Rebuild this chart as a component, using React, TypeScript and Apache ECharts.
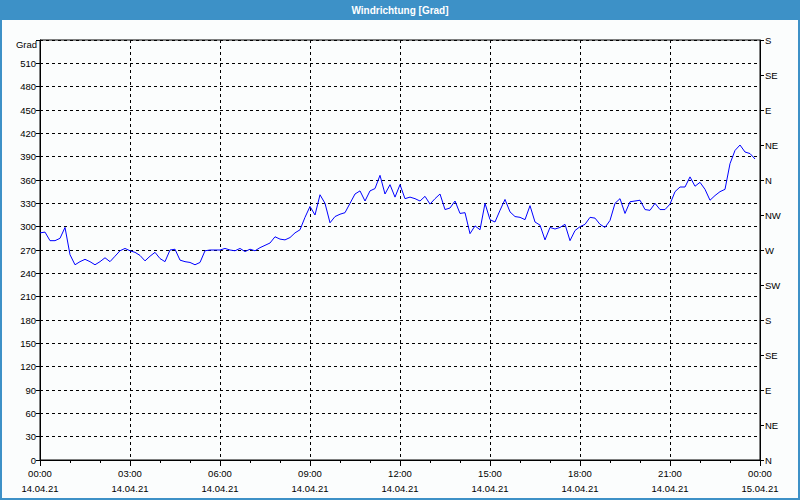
import React, { useEffect, useRef } from "react";
import * as echarts from "echarts";

const chartTitle = "Windrichtung [Grad]";
const yUnitLabel = "Grad";
const dateLabels = ["14.04.21", "15.04.21"];
const directionLabels = ["N", "NE", "E", "SE", "S", "SW", "W", "NW", "N", "NE", "E", "SE", "S"];
const sampleStepMinutes = 10;

// Wind direction [deg], 10-minute samples from 00:00 to 23:50
const windDir: number[] = [
  292, 293, 282, 282, 285, 299, 264, 251, 255, 258, 255, 251,
  255, 260, 255, 262, 269, 272, 269, 267, 263, 256, 262, 267,
  259, 255, 270, 271, 257, 255, 254, 251, 254, 269, 270, 270,
  270, 272, 270, 269, 272, 268, 271, 269, 273, 276, 279, 287,
  284, 283, 286, 292, 296, 312, 326, 315, 341, 330, 305, 313,
  316, 318, 330, 342, 346, 333, 346, 349, 366, 342, 354, 338,
  354, 336, 338, 336, 333, 339, 329, 336, 342, 322, 324, 333,
  317, 318, 291, 301, 296, 330, 309, 306, 321, 335, 319, 313,
  312, 309, 327, 306, 302, 283, 299, 297, 299, 303, 282, 295,
  300, 303, 312, 311, 303, 299, 308, 330, 336, 317, 332, 333,
  334, 322, 321, 330, 322, 322, 329, 345, 351, 351, 364, 352,
  357, 348, 334, 340, 345, 348, 381, 398, 405, 396, 394, 387,
];

const FONT = "Liberation Sans";

export default function App() {
  const ref = useRef<HTMLDivElement>(null);

  useEffect(() => {
    if (!ref.current) return;
    const chart = echarts.init(ref.current, undefined, { renderer: "svg" });
    const seriesData = windDir.map((v, i) => [i * sampleStepMinutes, v]);
    const pad = (n: number) => (n < 10 ? "0" + n : "" + n);

    chart.setOption({
      animation: false,
      backgroundColor: "#fbfdfd",
      grid: {
        left: 40,
        right: 40,
        top: 40,
        bottom: 40,
        show: true,
        borderColor: "#000",
        borderWidth: 1,
        backgroundColor: "transparent",
      },
      xAxis: {
        type: "value",
        min: 0,
        max: 1440,
        interval: 180,
        axisLine: { show: true, lineStyle: { color: "#000", width: 1 } },
        axisTick: { show: true, length: 6, lineStyle: { color: "#000" } },
        minorTick: { show: true, splitNumber: 3, length: 3, lineStyle: { color: "#000" } },
        splitLine: { show: true, lineStyle: { color: "#000", type: [3, 3], width: 1 } },
        axisLabel: {
          color: "#000",
          fontFamily: FONT,
          fontSize: 9.5,
          lineHeight: 15,
          margin: 6,
          formatter: (v: number) => {
            const h = Math.floor(v / 60) % 24;
            const day = v >= 1440 ? dateLabels[1] : dateLabels[0];
            return pad(h) + ":00\n" + day;
          },
        },
      },
      yAxis: [
        {
          type: "value",
          min: 0,
          max: 540,
          interval: 30,
          axisLine: { show: true, lineStyle: { color: "#000" } },
          axisTick: { show: true, length: 4, lineStyle: { color: "#000" } },
          splitLine: { show: true, lineStyle: { color: "#000", type: [3, 3], width: 1 } },
          axisLabel: {
            color: "#000",
            fontFamily: FONT,
            fontSize: 9.5,
            margin: 4,
            formatter: (v: number) => (v >= 540 ? "" : String(v)),
          },
        },
        {
          type: "value",
          position: "right",
          min: 0,
          max: 540,
          interval: 45,
          axisLine: { show: true, lineStyle: { color: "#000" } },
          axisTick: { show: true, length: 4, lineStyle: { color: "#000" } },
          splitLine: { show: false },
          axisLabel: {
            color: "#000",
            fontFamily: FONT,
            fontSize: 9.5,
            margin: 5,
            formatter: (v: number) => directionLabels[Math.round(v / 45)] ?? "",
          },
        },
      ],
      series: [
        {
          type: "line",
          yAxisIndex: 0,
          data: seriesData,
          showSymbol: false,
          symbol: "none",
          lineStyle: { color: "#0000ff", width: 1 },
          itemStyle: { color: "#0000ff" },
          silent: true,
        },
      ],
      graphic: [
        {
          type: "rect",
          shape: { x: 0, y: 0, width: 800, height: 20 },
          style: { fill: "#3d91c7" },
          z: 10,
        },
        {
          type: "text",
          x: 400,
          y: 10,
          style: {
            text: chartTitle,
            fill: "#fff",
            font: "bold 10px " + FONT,
            textAlign: "center",
            textVerticalAlign: "middle",
          },
          z: 11,
        },
        {
          type: "text",
          x: 37,
          y: 44,
          style: {
            text: yUnitLabel,
            fill: "#000",
            font: "9.5px " + FONT,
            textAlign: "right",
            textVerticalAlign: "middle",
          },
          z: 11,
        },
        {
          type: "rect",
          shape: { x: 1, y: 1, width: 798, height: 498 },
          style: { fill: "none", stroke: "#3d91c7", lineWidth: 2 },
          z: 12,
          silent: true,
        },
      ],
    });

    return () => chart.dispose();
  }, []);

  return (
    <div
      ref={ref}
      style={{ position: "fixed", left: 0, top: 0, width: 800, height: 500 }}
    />
  );
}
